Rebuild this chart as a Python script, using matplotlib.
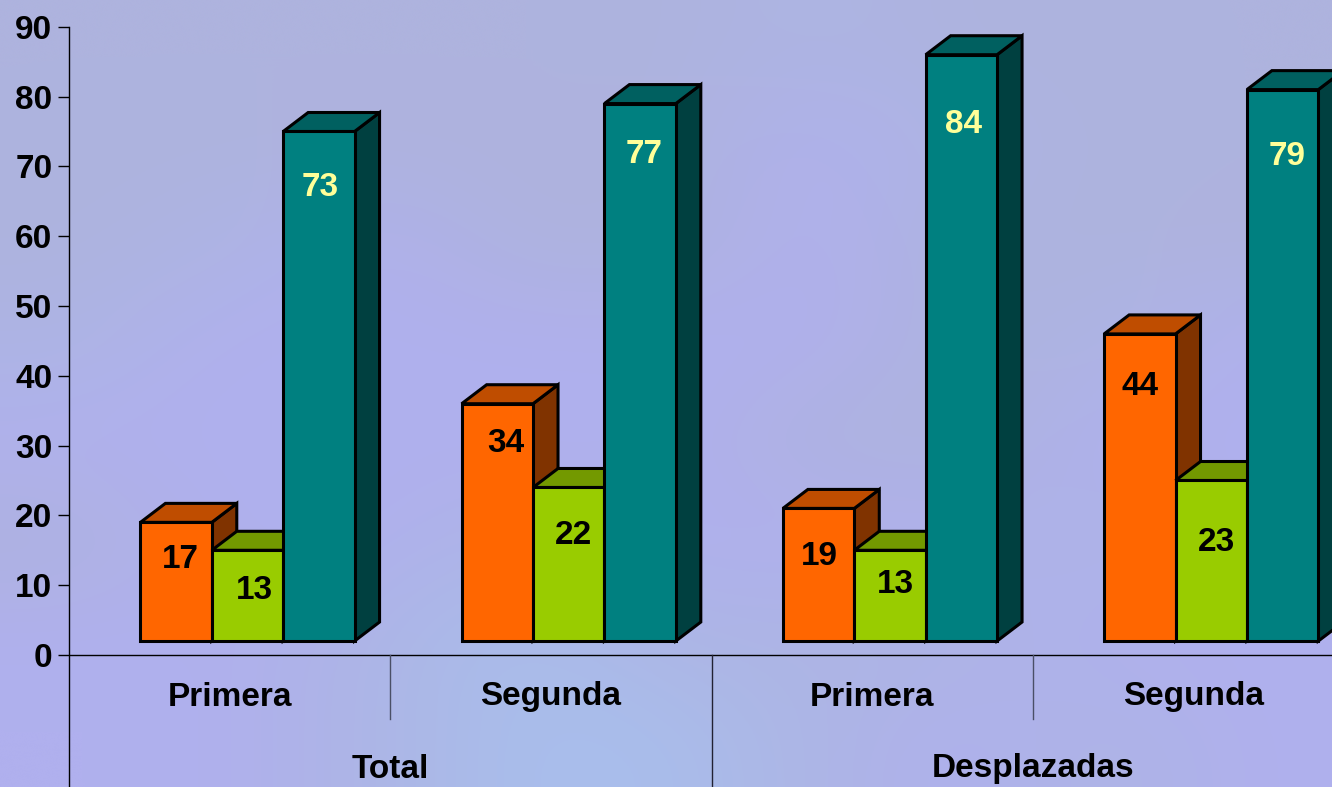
import numpy as np
import matplotlib.pyplot as plt
from matplotlib.colors import to_rgb
from matplotlib.patches import Polygon

plt.rcParams['font.family'] = ['Liberation Sans', 'DejaVu Sans']
plt.rcParams['font.weight'] = 'bold'

groups = ['Total', 'Desplazadas']
rounds = ['Primera', 'Segunda', 'Primera', 'Segunda']
orange_vals = [17, 34, 19, 44]
green_vals = [13, 22, 13, 23]
teal_vals = [73, 77, 84, 79]
y_ticks = [0, 10, 20, 30, 40, 50, 60, 70, 80, 90]

# colour, top, side
styles = [('#FF6600', '#BF4D00', '#803300'),
          ('#99CC00', '#739900', '#4D6600'),
          ('#008080', '#006060', '#004040')]
label_colors = ['black', 'black', '#FFFF99']
# how far each label sits under the top of its bar, in px
label_drop = [[34, 37, 45, 50], [37, 45, 31, 59], [53, 48, 67, 64]]
label_shift = [[4, 8, 1, 0], [7, 5, 5, 5], [1, 4, 2, 5]]

# rough mottled backdrop, colours
A, B, C, D = '#AEB3DE', '#B0B0EE', '#A9BEEC', '#ADB5E4'
back = [[A, A, A, A, A, D, A, A, A],
        [A, A, A, A, A, B, D, A, A],
        [A, D, B, A, A, B, A, A, A],
        [D, B, B, B, B, B, A, D, B],
        [B, B, B, B, B, A, A, B, B],
        [A, B, B, D, B, B, B, D, B],
        [B, B, D, C, D, D, D, B, B],
        [B, B, D, C, C, D, B, D, B]]

W, H = 1332, 787
fig = plt.figure(figsize=(W/100, H/100), dpi=100)
bg = fig.add_axes([0, 0, 1, 1])
bg.imshow([[to_rgb(c) for c in row] for row in back], aspect='auto',
          interpolation='bicubic')
bg.axis('off')

# px scale: category 321.25 px wide, 10 units = 69.8 px
cat_px = 321.25
unit_px = 6.98
ax = fig.add_axes([69/W, 0, 1 - 69/W, 1])
ax.patch.set_alpha(0)
ax.set_xlim(0, (W - 69)/cat_px)
ax.set_ylim((655 - H)/unit_px, 655/unit_px)

bar_w = 1/4.5
depth_x = 25/cat_px
depth_y = 19/unit_px
floor = 2
edge = dict(edgecolor='black', linewidth=2.2, joinstyle='miter')

series = [orange_vals, green_vals, teal_vals]
for i in range(4):
    for j, vals in enumerate(series):
        v = vals[i]
        x0 = i + bar_w*(1 + j)
        x1 = x0 + bar_w
        top = floor + v
        front, top_c, side_c = styles[j]
        ax.add_patch(Polygon([(x1, floor), (x1 + depth_x, floor + depth_y),
                              (x1 + depth_x, top + depth_y), (x1, top)],
                             facecolor=side_c, zorder=2+i*3+j, **edge))
        ax.add_patch(Polygon([(x0, top), (x0 + depth_x, top + depth_y),
                              (x1 + depth_x, top + depth_y), (x1, top)],
                             facecolor=top_c, zorder=2+i*3+j, **edge))
        ax.bar(x0, v, bar_w, bottom=floor, align='edge', color=front,
               zorder=2+i*3+j, **edge)
        ax.annotate(str(v), (x0 + bar_w/2, top),
                    xytext=(label_shift[j][i]*0.72, -(label_drop[j][i] + 3)*0.72),
                    textcoords='offset points', ha='center', va='center',
                    fontsize=24, color=label_colors[j], zorder=30)

# axes lines
for s in ['top', 'right', 'bottom']:
    ax.spines[s].set_visible(False)
ax.spines['left'].set_linewidth(1)
ax.spines['left'].set_bounds((655 - H)/unit_px, 90)
ax.axhline(0, color='black', lw=1, zorder=1)
ax.set_xticks([])
ax.set_yticks(y_ticks)
ax.tick_params(axis='y', length=8, width=1, pad=4, labelsize=24)

# category separators
ax.plot([1, 1], [0, -64/unit_px], color='#4A4F66', lw=1)
ax.plot([3, 3], [0, -64/unit_px], color='#4A4F66', lw=1)
ax.plot([2, 2], [0, -H], color='#222233', lw=1)

for i, name in enumerate(rounds):
    ax.text(i + 0.5, -42/unit_px, name, ha='center', va='center', fontsize=24)
for i, name in enumerate(groups):
    ax.text(2*i + 1, -114/unit_px, name, ha='center', va='center', fontsize=24)

plt.savefig('out.png', dpi=100)
